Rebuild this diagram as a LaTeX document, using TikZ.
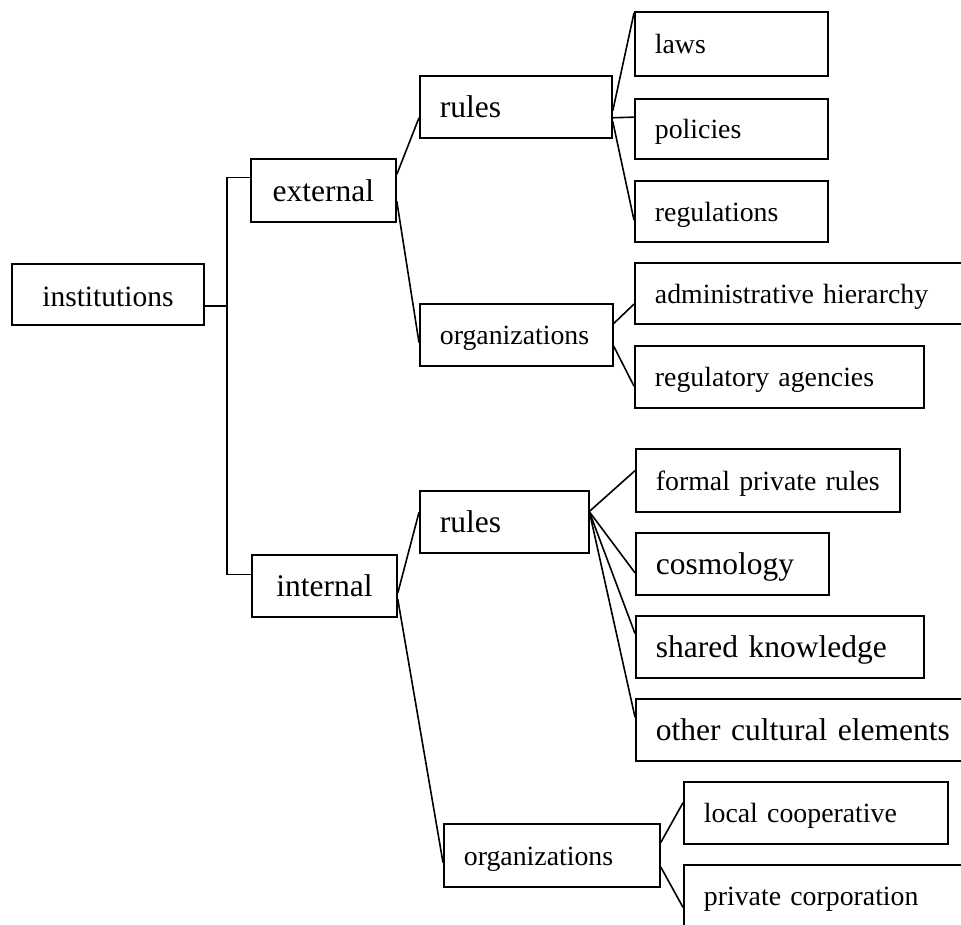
\documentclass[tikz,border=0pt]{standalone}
\usepackage{fontspec}
\setmainfont{Liberation Serif}
\usetikzlibrary{calc}
\newcommand{\lnk}[4]{\draw[conn] ($(#1.north east)!#2!(#1.south east)$) -- ($(#3.north west)!#4!(#3.south west)$);}
\tikzset{
  box/.style={draw, line width=1.8pt, anchor=north west, inner xsep=20pt, inner ysep=0pt, align=left},
  cbox/.style={draw, line width=1.8pt, anchor=north west, inner xsep=4pt, inner ysep=0pt, align=center},
  big/.style={font=\fontsize{31.5}{36}\selectfont, text height=22pt, text depth=0pt},
  small/.style={font=\fontsize{27.8}{32}\selectfont, text height=19.5pt, text depth=0pt},
  conn/.style={line width=1.6pt}
}
\begin{document}
\begin{tikzpicture}[x=1pt,y=-1pt]
\useasboundingbox (0,0) rectangle (961,925);
\fill[white] (0,0) rectangle (961,925);
\clip (0,0) rectangle (961,925);
% level 0/1
\node[cbox, font=\fontsize{29.5}{34}\selectfont, text height=25pt, text depth=0pt, minimum width=192, minimum height=61] (inst) at (11,263) {institutions};
\node[cbox, big, minimum width=145, minimum height=63] (ext) at (250,158) {external};
\node[cbox, big, minimum width=145, minimum height=62] (int) at (251,554) {internal};
% level 2
\node[box, big, minimum width=192, minimum height=62, text width=152] (rx) at (419,75) {rules};
\node[box, small, minimum width=193, minimum height=62, text width=153] (ox) at (419,303) {organizations};
\node[box, big, minimum width=169, minimum height=62, text width=129] (ri) at (419,490) {rules};
\node[box, small, minimum width=216, minimum height=63, text width=176] (oi) at (443,823) {organizations};
% level 3 external
\node[box, small, minimum width=193, minimum height=64, text width=153] (laws) at (634,11) {laws};
\node[box, small, minimum width=193, minimum height=60, text width=153] (pol) at (634,98) {policies};
\node[box, small, minimum width=193, minimum height=61, text width=153] (reg) at (634,180) {regulations};
\node[box, small, minimum width=340, minimum height=61, text width=300] (adm) at (634,262) {administrative hierarchy};
\node[box, small, minimum width=289, minimum height=62, text width=249] (rag) at (634,345) {regulatory agencies};
% level 3 internal
\node[box, small, minimum width=264, minimum height=63, text width=224] (fpr) at (635,448) {formal private rules};
\node[box, big, minimum width=193, minimum height=62, text width=153] (cos) at (635,532) {cosmology};
\node[box, big, minimum width=288, minimum height=62, text width=248] (shk) at (635,615) {shared knowledge};
\node[box, big, minimum width=340, minimum height=62, text width=300] (oce) at (635,698) {other cultural elements};
\node[box, small, minimum width=264, minimum height=62, text width=224] (lco) at (683,781) {local cooperative};
\node[box, small, minimum width=300, minimum height=62, text width=260] (pco) at (683,864) {private corporation};
% bracket
\coordinate (bk) at (227,0);
\coordinate (i0) at ($(inst.north east)!0.68!(inst.south east)$);
\coordinate (e0) at ($(ext.north west)!0.30!(ext.south west)$);
\coordinate (n0) at ($(int.north west)!0.32!(int.south west)$);
\draw[conn] (i0) -- (i0 -| bk);
\draw[conn] (e0) -- (e0 -| bk) -- (n0 -| bk) -- (n0);
% connectors
\lnk{ext}{0.254}{rx}{0.67}
\lnk{ext}{0.667}{ox}{0.62}
\lnk{rx}{0.56}{laws}{0.03}
\lnk{rx}{0.67}{pol}{0.31}
\lnk{rx}{0.73}{reg}{0.64}
\lnk{ox}{0.32}{adm}{0.67}
\lnk{ox}{0.68}{rag}{0.645}
\lnk{int}{0.61}{ri}{0.35}
\lnk{int}{0.71}{oi}{0.61}
\lnk{ri}{0.33}{fpr}{0.35}
\lnk{ri}{0.35}{cos}{0.64}
\lnk{ri}{0.36}{shk}{0.29}
\lnk{ri}{0.37}{oce}{0.30}
\lnk{oi}{0.30}{lco}{0.34}
\lnk{oi}{0.68}{pco}{0.68}
\end{tikzpicture}
\end{document}
